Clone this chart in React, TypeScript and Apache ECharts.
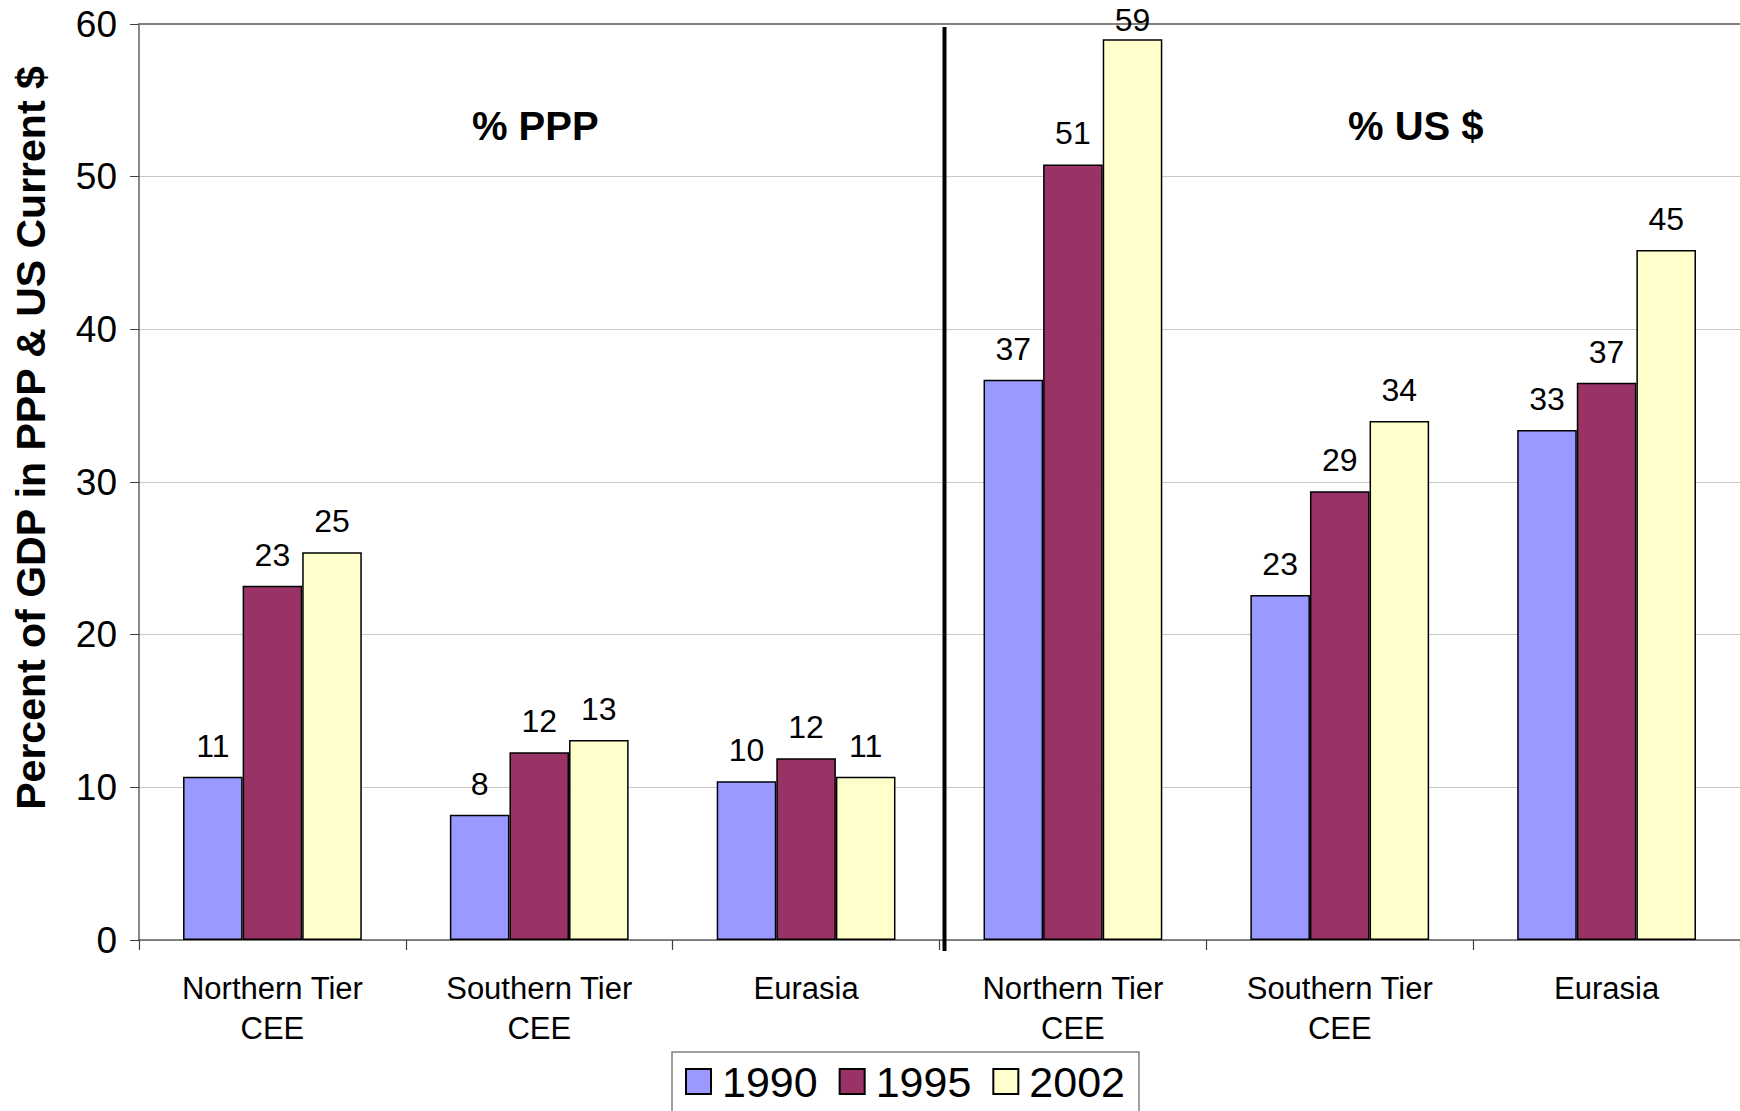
import React, { useEffect, useRef } from "react";
import * as echarts from "echarts";

const categories = [
  "Northern Tier\nCEE",
  "Southern Tier\nCEE",
  "Eurasia",
  "Northern Tier\nCEE",
  "Southern Tier\nCEE",
  "Eurasia",
];
const seriesNames = ["1990", "1995", "2002"];
const values1990 = [10.7, 8.2, 10.4, 36.7, 22.6, 33.4];
const values1995 = [23.2, 12.3, 11.9, 50.8, 29.4, 36.5];
const values2002 = [25.4, 13.1, 10.7, 59.0, 34.0, 45.2];
const yTicks = [0, 10, 20, 30, 40, 50, 60];
const sectionTitles = ["% PPP", "% US $"];
const yAxisTitle = "Percent of GDP in PPP & US Current $";

const colors = ["#9999FF", "#993366", "#FFFFCC"];
const FONT = "'Liberation Sans', Arial, sans-serif";

export default function App() {
  const ref = useRef<HTMLDivElement>(null);
  useEffect(() => {
    document.body.style.margin = "0";
    const chart = echarts.init(ref.current!, null, { renderer: "svg" });
    const allValues = [values1990, values1995, values2002];
    const option: any = {
      animation: false,
      backgroundColor: "#ffffff",
      textStyle: { fontFamily: FONT },
      grid: { left: 139, right: 0, top: 24, bottom: 171, containLabel: false },
      legend: {
        data: seriesNames,
        left: 672,
        top: 1052,
        padding: [8, 14, 12, 13],
        itemWidth: 25,
        itemHeight: 25,
        itemGap: 21,
        borderColor: "#808080",
        borderWidth: 1.5,
        backgroundColor: "#ffffff",
        icon: "rect",
        textStyle: { fontSize: 43, color: "#000", fontFamily: FONT, padding: [0, 0, 0, 6] },
      },
      xAxis: [
        {
          type: "category",
          data: categories,
          position: "bottom",
          axisLine: { lineStyle: { color: "#606060", width: 1.5 } },
          axisTick: { show: true, length: 10, lineStyle: { color: "#404040", width: 1.2 } },
          axisLabel: {
            fontSize: 31,
            color: "#000",
            fontFamily: FONT,
            lineHeight: 40,
            margin: 28,
            interval: 0,
          },
        },
        {
          type: "category",
          data: categories,
          position: "top",
          axisLine: { show: true, lineStyle: { color: "#808080", width: 2 } },
          axisTick: { show: false },
          axisLabel: { show: false },
        },
      ],
      yAxis: {
        type: "value",
        min: 0,
        max: 60,
        interval: 10,
        axisLine: { show: true, lineStyle: { color: "#606060", width: 1.5 } },
        axisTick: { show: true, length: 9, lineStyle: { color: "#404040" } },
        axisLabel: {
          fontSize: 37,
          color: "#000",
          fontFamily: FONT,
          margin: 22,
          formatter: (v: number) => (yTicks.includes(v) ? String(v) : ""),
        },
        splitLine: { show: true, lineStyle: { color: "#c8c8c8", width: 1 } },
      },
      series: seriesNames.map((name, i) => ({
        name,
        type: "bar",
        xAxisIndex: 0,
        data: allValues[i].map((v) =>
          v >= 58 ? { value: v, label: { distance: 3 } } : v
        ),
        barGap: "0%",
        barCategoryGap: "33%",
        itemStyle: { color: colors[i], borderColor: "#000", borderWidth: 1.5 },
        label: {
          show: true,
          position: "top",
          distance: 15,
          fontSize: 32,
          color: "#000",
          fontFamily: FONT,
          formatter: (p: any) => String(Math.round(p.value)),
        },
      })),
    };
    chart.setOption(option);

    const x2 = chart.convertToPixel({ xAxisIndex: 0 }, 2) as number;
    const x3 = chart.convertToPixel({ xAxisIndex: 0 }, 3) as number;
    const yTop = chart.convertToPixel({ yAxisIndex: 0 }, 60) as number;
    const yBot = chart.convertToPixel({ yAxisIndex: 0 }, 0) as number;
    const xDiv = (x2 + x3) / 2 + 5;
    const xPPP = chart.convertToPixel({ xAxisIndex: 0 }, 1) as number;
    const xUS = chart.convertToPixel({ xAxisIndex: 0 }, 4) as number;
    const x5 = chart.convertToPixel({ xAxisIndex: 0 }, 5) as number;
    const yTitle = chart.convertToPixel({ yAxisIndex: 0 }, 53.3) as number;

    chart.setOption({
      graphic: [
        {
          type: "line",
          shape: { x1: xDiv, y1: yTop + 3, x2: xDiv, y2: yBot + 11 },
          style: { stroke: "#000", lineWidth: 4 },
          z: 100,
        },
        {
          type: "text",
          x: xPPP - 4,
          y: yTitle,
          style: {
            text: sectionTitles[0],
            font: `bold 40px ${FONT}`,
            fill: "#000",
            textAlign: "center",
            textVerticalAlign: "middle",
          },
        },
        {
          type: "text",
          x: xUS + (x5 - xUS) * 0.285,
          y: yTitle,
          style: {
            text: sectionTitles[1],
            font: `bold 40px ${FONT}`,
            fill: "#000",
            textAlign: "center",
            textVerticalAlign: "middle",
          },
        },
        {
          type: "text",
          x: 31,
          y: 438,
          rotation: Math.PI / 2,
          style: {
            text: yAxisTitle,
            font: `bold 41px ${FONT}`,
            fill: "#000",
            textAlign: "center",
            textVerticalAlign: "middle",
          },
        },
      ],
    });
    return () => chart.dispose();
  }, []);
  return <div ref={ref} style={{ width: 1740, height: 1111 }} />;
}
